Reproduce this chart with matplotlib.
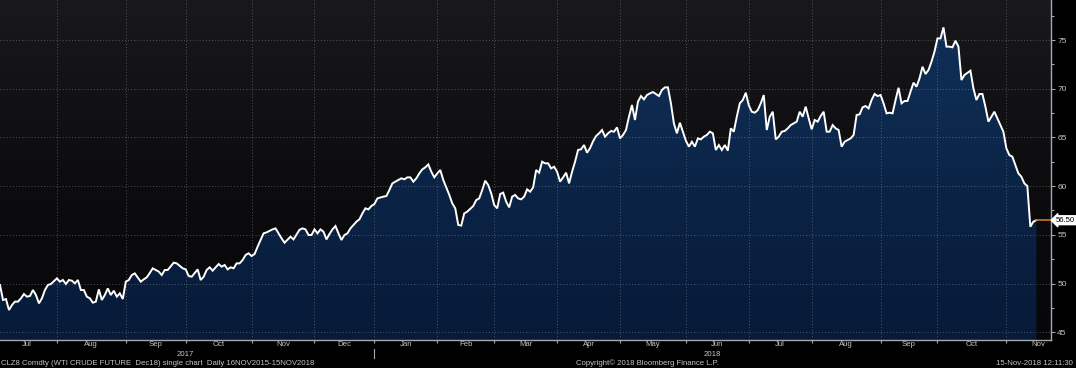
import numpy as np
import pandas as pd
import matplotlib
matplotlib.use("Agg")
import matplotlib.pyplot as plt
from matplotlib.colors import LinearSegmentedColormap
from matplotlib.transforms import blended_transform_factory

# ---------------- data ----------------
# trading-day offsets from 5 Jul 2017 (first session on the chart)
days = [0, 1, 2, 3, 4, 5, 6, 7, 8, 9, 10, 11, 12, 13, 14, 15, 16, 17, 19, 20,
        21, 22, 23, 24, 25, 26, 27, 28, 29, 30, 31, 32, 33, 34, 35, 36, 37, 38, 39, 40,
        41, 42, 43, 44, 45, 47, 48, 49, 50, 51, 53, 54, 55, 56, 58, 59, 61, 62, 63, 64,
        66, 67, 68, 69, 70, 71, 72, 73, 74, 75, 76, 77, 78, 79, 80, 81, 82, 83, 84, 85,
        86, 88, 89, 91, 92, 94, 95, 97, 98, 100, 101, 102, 103, 104, 105, 106, 107, 108, 109, 110,
        111, 112, 113, 114, 115, 116, 117, 118, 119, 120, 121, 122, 123, 124, 125, 126, 128, 129, 130, 131,
        132, 134, 135, 136, 137, 138, 139, 140, 141, 142, 143, 144, 145, 146, 147, 148, 150, 151, 152, 153,
        154, 155, 156, 158, 159, 160, 161, 162, 163, 164, 165, 166, 167, 168, 169, 170, 171, 172, 173, 174,
        175, 176, 177, 178, 179, 180, 181, 182, 183, 184, 185, 186, 187, 188, 189, 190, 191, 192, 193, 194,
        195, 196, 197, 198, 199, 200, 201, 202, 203, 204, 205, 206, 207, 208, 209, 210, 211, 212, 213, 214,
        215, 216, 217, 218, 219, 220, 221, 222, 223, 224, 225, 226, 227, 228, 229, 230, 231, 232, 233, 234,
        235, 236, 237, 238, 239, 240, 241, 242, 243, 244, 245, 246, 247, 248, 249, 250, 251, 252, 253, 254,
        255, 256, 257, 258, 259, 260, 261, 262, 263, 264, 266, 267, 268, 269, 270, 271, 272, 273, 274, 275,
        276, 277, 278, 279, 280, 281, 282, 284, 285, 286, 287, 288, 289, 290, 291, 292, 293, 294, 295, 296,
        297, 298, 299, 300, 301, 302, 303, 304, 305, 306, 307, 308, 309, 310, 311, 312, 313, 314, 315, 316,
        317, 318, 319, 320, 321, 322, 324, 325, 326, 327, 328, 329, 330, 331, 332, 333, 335, 336, 337, 338,
        339, 340, 341, 342, 343, 344, 345, 346]
prices = [49.85, 48.31, 48.40, 47.28, 47.79, 48.14, 48.14, 48.48, 48.92, 48.65, 48.72, 49.33, 48.82, 47.96, 48.48, 49.33, 49.85, 49.95, 50.53, 50.19,
          50.36, 49.95, 50.36, 50.29, 50.02, 50.36, 49.33, 49.33, 48.65, 48.48, 48.03, 48.14, 49.40, 48.31, 48.82, 49.50, 48.82, 49.26, 48.65, 48.99,
          48.41, 50.19, 50.36, 50.87, 51.04, 50.19, 50.43, 50.63, 51.08, 51.56, 51.22, 50.87, 51.39, 51.39, 52.14, 52.07, 51.56, 51.45, 50.77, 50.70,
          51.45, 50.36, 50.70, 51.39, 51.66, 51.32, 51.66, 52.00, 51.73, 51.90, 51.45, 51.66, 51.56, 52.07, 52.07, 52.41, 52.93, 53.10, 52.82, 53.03,
          53.78, 55.15, 55.25, 55.56, 55.66, 54.64, 54.19, 54.81, 54.53, 55.52, 55.66, 55.56, 54.98, 54.98, 55.56, 55.15, 55.56, 55.32, 54.53, 55.08,
          55.56, 55.90, 55.15, 54.47, 54.98, 55.15, 55.66, 56.01, 56.35, 56.59, 57.20, 57.72, 57.61, 57.96, 58.16, 58.74, 58.92, 58.98, 59.60, 60.28,
          60.46, 60.80, 60.70, 60.90, 60.90, 60.46, 60.80, 61.31, 61.72, 61.93, 62.23, 61.48, 60.90, 61.31, 61.65, 60.63, 59.10, 58.23, 57.72, 56.01,
          55.95, 57.20, 57.38, 57.96, 58.57, 58.74, 59.60, 60.56, 60.11, 59.26, 58.06, 57.72, 59.19, 59.33, 58.40, 57.82, 58.92, 59.09, 58.74, 58.64,
          58.92, 59.67, 59.43, 59.87, 61.65, 61.38, 62.51, 62.34, 62.34, 61.82, 61.99, 61.48, 60.46, 60.90, 61.38, 60.28, 61.48, 62.51, 63.71, 63.78,
          64.22, 63.43, 63.90, 64.60, 65.14, 65.42, 65.76, 65.08, 65.42, 65.66, 65.59, 66.03, 64.90, 65.25, 65.76, 67.13, 68.33, 66.79, 68.67, 69.25,
          68.91, 69.35, 69.52, 69.66, 69.46, 69.25, 69.87, 70.14, 70.14, 68.50, 66.44, 65.42, 66.51, 65.59, 64.66, 64.05, 64.56, 64.05, 64.90, 64.80,
          65.08, 65.25, 65.59, 65.42, 63.71, 64.22, 63.71, 64.22, 63.64, 65.93, 65.59, 67.13, 68.50, 68.84, 69.59, 68.30, 67.64, 67.54, 67.81, 68.50,
          69.35, 65.76, 67.13, 67.64, 64.80, 65.08, 65.59, 65.66, 65.93, 66.27, 66.62, 67.64, 67.13, 68.16, 66.96, 65.83, 66.79, 66.62, 67.20, 67.64,
          65.59, 65.59, 66.27, 65.93, 65.76, 64.05, 64.56, 64.90, 65.25, 67.30, 67.37, 68.09, 68.22, 67.98, 68.84, 69.46, 69.25, 69.35, 68.50, 67.47,
          67.54, 67.47, 68.84, 70.10, 68.50, 68.74, 68.74, 69.70, 70.62, 70.21, 71.06, 72.26, 71.51, 71.92, 72.78, 73.80, 75.17, 75.17, 76.30, 74.32,
          74.32, 74.25, 74.93, 74.32, 70.89, 71.41, 71.85, 70.04, 68.84, 69.46, 69.46, 68.16, 66.62, 67.13, 67.64, 66.96, 65.59, 63.88, 63.19, 63.02,
          62.17, 61.31, 60.97, 60.28, 60.01, 55.83, 56.35, 56.50]
last_price = 56.50
y_ticks = [45, 50, 55, 60, 65, 70, 75]
exchange_holidays = ['2017-07-04', '2017-09-04', '2017-11-23', '2017-12-25', '2018-01-01',
                     '2018-01-15', '2018-02-19', '2018-03-30', '2018-05-28', '2018-07-04',
                     '2018-09-03', '2018-11-22']
footer_left = "CLZ8 Comdty (WTI CRUDE FUTURE  Dec18) single chart  Daily 16NOV2015-15NOV2018"
footer_mid = "Copyright\u00a9 2018 Bloomberg Finance L.P."
footer_right = "15-Nov-2018 12:11:30"

# ---------------- calendar ----------------
cal = pd.bdate_range('2017-07-03', '2018-12-31', freq='C', holidays=exchange_holidays)
origin = list(cal).index(pd.Timestamp('2017-07-05'))
pos = np.arange(len(cal)) - origin
month_key = cal.year * 100 + cal.month
starts = [i for i in range(len(cal)) if i == 0 or month_key[i] != month_key[i - 1]]
month_start_pos = [pos[i] for i in starts]
month_names = [cal[i].strftime('%b') for i in starts]
month_ends = month_start_pos[1:] + [pos[-1] + 1]

# ---------------- figure ----------------
W, H = 1076, 368
fig = plt.figure(figsize=(W / 100, H / 100), dpi=100, facecolor='black')
ax = fig.add_axes([0, (H - 340) / H, 1051 / W, 340 / H])
ax.set_facecolor('black')

XMAX = 350.9
YMIN, YMAX = 44.20, 79.11
FONT = ['Liberation Sans', 'DejaVu Sans']
FS = 5.6
TXT = '#c4c4c4'

# background gradient
bg = LinearSegmentedColormap.from_list('bg', ['#07070a', '#0d0d10', '#19191c'])
g = np.linspace(0, 1, 256).reshape(-1, 1)
ax.imshow(g, extent=[0, 1, 0, 1], transform=ax.transAxes, origin='lower',
          cmap=bg, aspect='auto', zorder=0, interpolation='bicubic')

x = np.array(days, dtype=float)
y = np.array(prices)

# area fill with vertical gradient
poly = ax.fill_between(x, y, YMIN, color='none', lw=0)
fc = LinearSegmentedColormap.from_list('fill', ['#071a38', '#0b2548', '#11325b'])
im = ax.imshow(g, extent=[0, XMAX, YMIN, YMAX], origin='lower', cmap=fc,
               aspect='auto', zorder=1, interpolation='bicubic')
im.set_clip_path(poly.get_paths()[0], transform=ax.transData)

# grid
for v in y_ticks:
    ax.axhline(v, color='#8a8a8a', lw=0.7, ls=(0, (1, 2.2)), alpha=0.55, zorder=2)
for m in month_start_pos:
    if 0 < m < XMAX:
        ax.axvline(m, color='#8a8a8a', lw=0.7, ls=(0, (1, 2.2)), alpha=0.55, zorder=2)

# price line
ax.plot(x, y, color='white', lw=1.4, zorder=4, solid_joinstyle='miter')
ax.plot([x[-1], XMAX], [last_price, last_price], color='#c9781e', lw=1.2, zorder=4,
        clip_on=False)

ax.set_xlim(0, XMAX)
ax.set_ylim(YMIN, YMAX)

# spines
for s in ['top', 'left']:
    ax.spines[s].set_visible(False)
for s in ['bottom', 'right']:
    ax.spines[s].set_color('#a8a8a8')
    ax.spines[s].set_linewidth(1.0)

# y axis on the right
ax.yaxis.tick_right()
ax.set_yticks(y_ticks)
ax.set_yticks([v + 2.5 for v in y_ticks], minor=True)
ax.set_yticklabels([str(v) for v in y_ticks], fontsize=FS + 0.4, color=TXT, family=FONT)
ax.tick_params(axis='y', which='major', length=3, width=0.8, color='#a8a8a8', pad=1.5)
ax.tick_params(axis='y', which='minor', length=2, width=0.8, color='#a8a8a8')

# x ticks at month starts
ax.set_xticks([m for m in month_start_pos if 0 < m < XMAX])
ax.set_xticklabels([])
ax.tick_params(axis='x', which='major', length=2, width=0.8, color='#a8a8a8')

# month labels
trans = blended_transform_factory(ax.transData, ax.transAxes)
for s, e, name in zip(month_start_pos, month_ends, month_names):
    c = (s + e) / 2
    if 0 <= c <= XMAX + 2:
        ax.text(c, -0.013, name, transform=trans, ha='center', va='center',
                fontsize=FS, color=TXT, family=FONT, clip_on=False)

# year labels and separator
years = sorted(set(cal.year))
for yr in years:
    p = [pos[i] for i in range(len(cal)) if cal[i].year == yr]
    a, b = max(min(p), 0), min(max(p), XMAX)
    if b > a:
        ax.text((a + b) / 2, -0.043, str(yr), transform=trans, ha='center', va='center',
                fontsize=FS, color=TXT, family=FONT, clip_on=False)
jan = [m for m, nm in zip(month_start_pos, month_names) if nm == 'Jan']
for j in jan:
    ax.plot([j, j], [-0.027, -0.053], transform=trans, color='#a8a8a8', lw=0.8, clip_on=False)

# last price tag
ax.annotate(f"{last_price:.2f}", xy=(1.0, last_price), xycoords=('axes fraction', 'data'),
            xytext=(3.5, 0), textcoords='offset points', ha='left', va='center',
            fontsize=FS, color='black', family=FONT,
            bbox=dict(boxstyle='larrow,pad=0.12', fc='white', ec='white'), annotation_clip=False,
            zorder=6)

# footers
fig.text(1 / W, 4.5 / H, footer_left, ha='left', va='center', fontsize=FS, color=TXT, family=FONT)
fig.text(576 / W, 4.5 / H, footer_mid, ha='left', va='center', fontsize=FS, color=TXT, family=FONT)
fig.text(1073 / W, 4.5 / H, footer_right, ha='right', va='center', fontsize=FS, color=TXT, family=FONT)

fig.savefig('out.png', dpi=100, facecolor='black')
